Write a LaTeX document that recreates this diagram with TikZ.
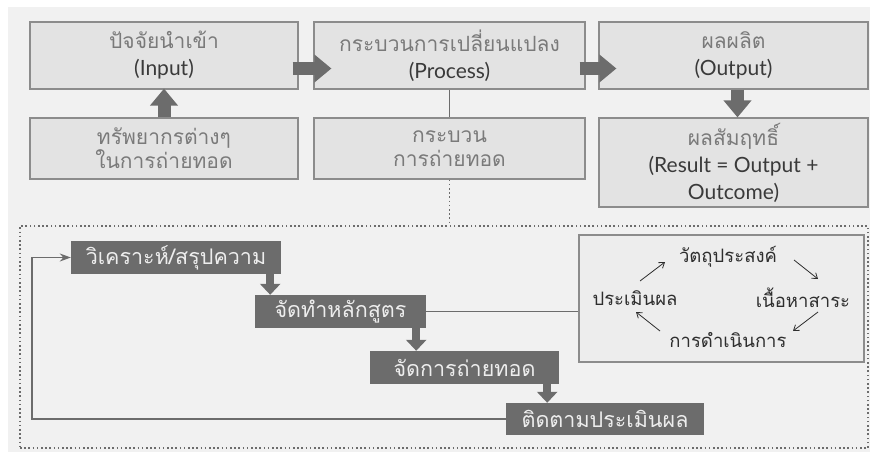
\documentclass[tikz,border=0pt]{standalone}
\usepackage{fontspec}
\setmainfont{Lato}
\newfontfamily\thfont[Script=Thai]{Loma}
\usetikzlibrary{arrows.meta}
\definecolor{bg}{HTML}{F1F1F1}
\definecolor{boxfill}{HTML}{E3E3E3}
\definecolor{boxline}{HTML}{8C8C8C}
\definecolor{dark}{HTML}{6C6C6C}
\definecolor{thgray}{HTML}{7A7A7A}
\definecolor{latin}{HTML}{3A3A3A}
\definecolor{cyclefill}{HTML}{EDEDED}
\definecolor{cycletext}{HTML}{2E2E2E}
\newcommand{\thaitxt}[1]{{\thfont\color{thgray}#1}}
\newcommand{\lattxt}[1]{{\color{latin}#1}}
\begin{document}
\begin{tikzpicture}[x=1pt,y=-1pt,
  lightbox/.style={draw=boxline, line width=1.2pt, fill=boxfill, inner sep=0pt,
    align=center, font=\fontsize{21}{27}\selectfont},
  darkbox/.style={fill=dark, text=white!93!black, inner sep=0pt,
    font=\thfont\fontsize{21.5}{24}\selectfont},
  cyclabel/.style={text=cycletext, inner sep=1pt, font=\thfont\fontsize{18.5}{20}\selectfont},
  bigarrow/.style={draw=dark, line width=13pt, -{Triangle[length=17pt,width=27pt]}},
  darrow/.style={draw=dark, line width=8pt, -{Triangle[length=11pt,width=20pt]}},
  link/.style={draw=dark, line width=1.2pt},
  looparrow/.style={draw=dark, line width=1.2pt, -{Stealth[length=11pt,width=8pt]}},
  cycarrow/.style={draw=cycletext, line width=0.8pt, -{Straight Barb[length=5pt,width=7pt]}},
  dotframe/.style={draw=dark, line width=1.5pt, dash pattern=on 1.6pt off 2.6pt}
]
\useasboundingbox (0,0) rectangle (870,452);
\fill[bg] (8,7) rectangle (870,452);

% upper row: input - process - output
\node[lightbox, minimum width=268pt, minimum height=67pt] (input) at (164,55.5)
  {\thaitxt{ปัจจัยนำเข้า}\\\lattxt{(Input)}};
\node[lightbox, minimum width=271pt, minimum height=67pt] (process) at (449.5,55.5)
  {\thaitxt{กระบวนการเปลี่ยนแปลง}\\\lattxt{(Process)}};
\node[lightbox, minimum width=269pt, minimum height=67pt] (output) at (733.5,55.5)
  {\thaitxt{ผลผลิต}\\\lattxt{(Output)}};

% second row
\node[lightbox, font=\fontsize{21}{24}\selectfont, minimum width=268pt, minimum height=61pt] (res) at (164,148.5)
  {\thaitxt{ทรัพยากรต่างๆ}\\\thaitxt{ในการถ่ายทอด}};
\node[lightbox, font=\fontsize{21}{24}\selectfont, minimum width=271pt, minimum height=61pt] (trans) at (449.5,148.5)
  {\thaitxt{กระบวน}\\\thaitxt{การถ่ายทอด}};
\node[lightbox, minimum width=269pt, minimum height=89pt] (result) at (733.5,162.5)
  {\thaitxt{ผลสัมฤทธิ์}\\\lattxt{(Result = Output +}\\\lattxt{Outcome)}};

\draw[bigarrow] ([xshift=-6pt,yshift=-13pt]input.east) -- ([xshift=18pt,yshift=-13pt]process.west);
\draw[bigarrow] ([xshift=-6pt,yshift=-13pt]process.east) -- ([xshift=18pt,yshift=-13pt]output.west);
\draw[bigarrow] (res.north) -- ([yshift=1pt]input.south);
\draw[bigarrow] ([xshift=4pt]output.south) -- ([xshift=4pt]result.north);
\draw[link] (process.south) -- (trans.north);

% dotted frame around the transfer cycle
\node[dotframe, minimum width=848pt, minimum height=222pt, inner sep=0pt] (frame) at (444,337) {};
\draw[dotframe] (trans.south) -- (trans.south |- frame.north);

% dark step boxes
\node[darkbox, minimum width=210pt, minimum height=33pt] (analyze) at (176,257.5) {วิเคราะห์/สรุปความ};
\node[darkbox, minimum width=171pt, minimum height=33pt] (curric) at (340.5,311.5) {จัดทำหลักสูตร};
\node[darkbox, minimum width=189pt, minimum height=33pt] (deliver) at (464.5,367.5) {จัดการถ่ายทอด};
\node[darkbox, minimum width=198pt, minimum height=32pt] (follow) at (605,419) {ติดตามประเมินผล};

\draw[darrow] ([xshift=-11pt]analyze.south east) -- ([xshift=-11pt]analyze.south east |- curric.north);
\draw[darrow] ([xshift=-10pt]curric.south east) -- ([xshift=-10pt]curric.south east |- deliver.north);
\draw[darrow] ([xshift=-12pt]deliver.south east) -- ([xshift=-12pt]deliver.south east |- follow.north);

% feedback loop
\coordinate (loopcorner) at (32,419);
\draw[looparrow] (follow.west) -- (loopcorner) |- (analyze.west);

% curriculum cycle
\node[draw=boxline, line width=1.2pt, fill=cyclefill, minimum width=285pt, minimum height=127pt,
  inner sep=0pt] (cycle) at (721.5,298.5) {};
\draw[link] (curric.east) -- (curric.east -| cycle.west);

\node[cyclabel] (obj) at (728,257) {วัตถุประสงค์};
\node[cyclabel] (content) at (803,298) {เนื้อหาสาระ};
\node[cyclabel] (oper) at (728,340) {การดำเนินการ};
\node[cyclabel] (eval) at (635,298) {ประเมินผล};

\coordinate (a1) at (640,281); \coordinate (a2) at (665,262);
\coordinate (b1) at (794,260); \coordinate (b2) at (818,279);
\coordinate (c1) at (818,312); \coordinate (c2) at (793,331);
\coordinate (d1) at (660,331); \coordinate (d2) at (636,312);
\draw[cycarrow] (a1) -- (a2);
\draw[cycarrow] (b1) -- (b2);
\draw[cycarrow] (c1) -- (c2);
\draw[cycarrow] (d1) -- (d2);
\end{tikzpicture}
\end{document}
